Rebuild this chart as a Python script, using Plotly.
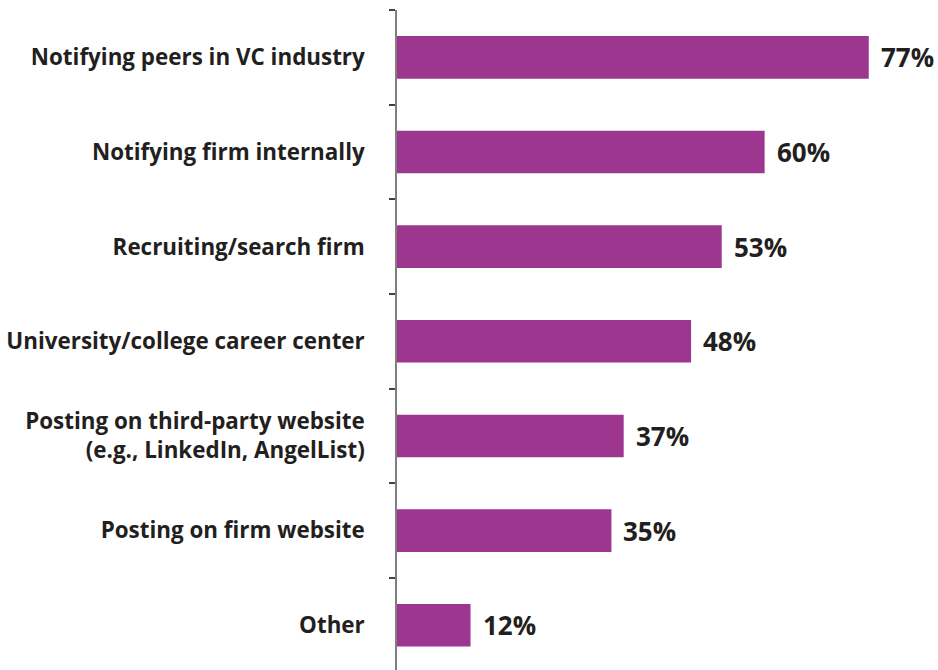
import plotly.graph_objects as go

# Survey responses: channels used to recruit, share of respondents (%)
categories = [
    "Notifying peers in VC industry",
    "Notifying firm internally",
    "Recruiting/search firm",
    "University/college career center",
    "Posting on third-party website<br>(e.g., LinkedIn, AngelList)",
    "Posting on firm website",
    "Other",
]
values = [77, 60, 53, 48, 37, 35, 12]
value_labels = [f"{v}%" for v in values]

BAR_COLOR = "#9C368F"
TEXT_COLOR = "#231F20"
FONT = "Open Sans"

fig = go.Figure(
    go.Bar(
        x=values,
        y=categories,
        orientation="h",
        marker=dict(color=BAR_COLOR, line=dict(width=0)),
        hoverinfo="skip",
    )
)

# Value labels to the right of each bar
for cat, val, lab in zip(categories, values, value_labels):
    fig.add_annotation(
        x=val, y=cat, text=f"<b>{lab}</b>", showarrow=False,
        xanchor="left", yanchor="middle", xshift=10,
        font=dict(family=FONT, size=26, color=TEXT_COLOR),
    )

fig.update_layout(
    width=938, height=670,
    margin=dict(l=397, r=0, t=10, b=0),
    paper_bgcolor="white", plot_bgcolor="white",
    bargap=0.55,
    showlegend=False,
    font=dict(family=FONT, color=TEXT_COLOR),
)
fig.update_xaxes(
    range=[0, 88.3], visible=False, showgrid=False, zeroline=False,
)
# the last category runs slightly past the bottom edge of the page
fig.update_yaxes(
    range=[6.472, -0.5],
    showline=True, linecolor="#7F7F7F", linewidth=1.5,
    ticks="outside", tickson="boundaries", ticklen=6,
    tickcolor="#404040", tickwidth=1.5,
    tickfont=dict(family=FONT, size=22.4, color=TEXT_COLOR, weight="bold"),
    ticklabelstandoff=26,
    showgrid=False, zeroline=False,
)

fig.write_html("out.html")
